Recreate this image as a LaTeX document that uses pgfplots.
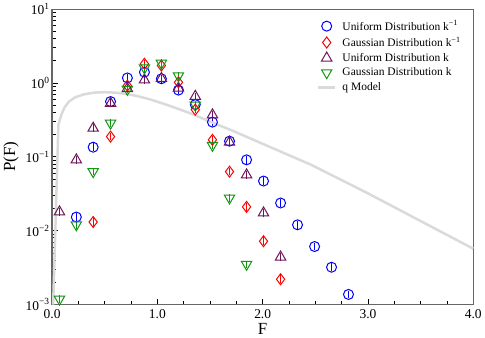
\documentclass[border=0pt]{standalone}
\usepackage{fontspec}
\setmainfont{Liberation Serif}
\usepackage{pgfplots}
\pgfplotsset{compat=1.18}
\definecolor{cblue}{RGB}{0,0,255}
\definecolor{cred}{RGB}{255,0,0}
\definecolor{cpurp}{RGB}{110,20,90}
\definecolor{cgreen}{RGB}{20,150,20}
\definecolor{cgray}{RGB}{218,218,218}
\pgfplotsset{myerr/.style={error bars/.cd, y dir=both, y fixed relative=0.03,
  error bar style={line width=0.8pt}, error mark options={mark size=2.8pt, line width=0.8pt}}}
\begin{document}
\begin{tikzpicture}
\begin{axis}[
  scale only axis,
  width=422pt, height=296pt,
  xmin=0, xmax=4, ymin=0.001, ymax=10,
  ymode=log,
  xtick={0,1,2,3,4},
  xticklabels={0.0,1.0,2.0,3.0,4.0},
  minor xtick={0.25,0.5,0.75,1.25,1.5,1.75,2.25,2.5,2.75,3.25,3.5,3.75},
  ytick={0.001,0.01,0.1,1,10},
  yticklabels={10\textsuperscript{−3},10\textsuperscript{−2},10\textsuperscript{−1},10\textsuperscript{0},10\textsuperscript{1}},
  xtick pos=left, ytick pos=left,
  tick align=inside,
  major tick length=6pt, minor tick length=3.5pt,
  tick style={black, line width=0.8pt},
  axis line style={black!60, line width=1.2pt},
  ticklabel style={font=\fontsize{13.5}{15}\selectfont},
  xticklabel style={yshift=-1pt},
  yticklabel style={xshift=1pt},
  xlabel={F}, ylabel={P(F)},
  label style={font=\fontsize{17}{19}\selectfont},
  xlabel style={yshift=2pt},
  legend style={at={(0.626,0.972)}, anchor=north west, draw=none, fill=none,
    font=\fontsize{11.5}{12}\selectfont, row sep=1.2pt, inner sep=1pt},
  legend cell align=left,
  clip=false,
]
\addplot[cblue, only marks, mark=o, mark size=5pt, line width=1pt, myerr]
coordinates {
(0.23,0.0153) (0.39,0.135) (0.555,0.56) (0.715,1.17) (0.877,1.40) (1.038,1.14)
(1.20,0.80) (1.36,0.51) (1.523,0.295) (1.685,0.163) (1.847,0.091) (2.008,0.047)
(2.17,0.0237) (2.331,0.012) (2.493,0.0061) (2.654,0.0032) (2.815,0.00137)
};
\addlegendentry{\hspace*{4pt}Uniform Distribution k\textsuperscript{−1}}
\addplot[cred, only marks, mark=diamond, mark size=5.5pt, line width=1pt, myerr]
coordinates {
(0.39,0.0131) (0.555,0.188) (0.715,0.92) (0.877,1.82) (1.038,1.72) (1.20,1.02)
(1.36,0.435) (1.523,0.17) (1.685,0.063) (1.847,0.021) (2.008,0.0072) (2.17,0.0022)
};
\addlegendentry{\hspace*{4pt}Gaussian Distribution k\textsuperscript{−1}}
\addplot[cpurp, only marks, mark=triangle, mark size=6pt, line width=1pt, myerr]
coordinates {
(0.07,0.018) (0.23,0.091) (0.39,0.244) (0.555,0.53) (0.715,0.84) (0.877,1.10)
(1.038,1.15) (1.20,0.85) (1.36,0.66) (1.523,0.37) (1.685,0.158) (1.847,0.057)
(2.008,0.0174) (2.17,0.0044)
};
\addlegendentry{\hspace*{4pt}Uniform Distribution k}
\addplot[cgreen, only marks, mark=triangle, mark options={rotate=180}, mark size=6pt, line width=1pt, myerr]
coordinates {
(0.07,0.00118) (0.23,0.012) (0.39,0.063) (0.555,0.285) (0.715,0.82) (0.877,1.6)
(1.038,1.85) (1.20,1.25) (1.36,0.50) (1.523,0.143) (1.685,0.0277) (1.847,0.0035)
};
\addlegendentry{\hspace*{4pt}Gaussian Distribution k}
\addplot[cgray, line width=2.5pt, no marks, line join=round]
coordinates {
(0.01,0.001) (0.06,0.27) (0.09,0.38) (0.12,0.47) (0.16,0.56) (0.22,0.64)
(0.30,0.70) (0.40,0.74) (0.50,0.75) (0.60,0.74) (0.70,0.71) (0.80,0.67)
(0.93,0.60) (1.10,0.50) (1.31,0.39) (1.50,0.30) (1.70,0.23) (2.0,0.15)
(2.46,0.078) (3.0,0.032) (3.5,0.0135) (4.0,0.0057)
};
\addlegendentry{\hspace*{4pt}q Model}
\end{axis}
\end{tikzpicture}
\end{document}
